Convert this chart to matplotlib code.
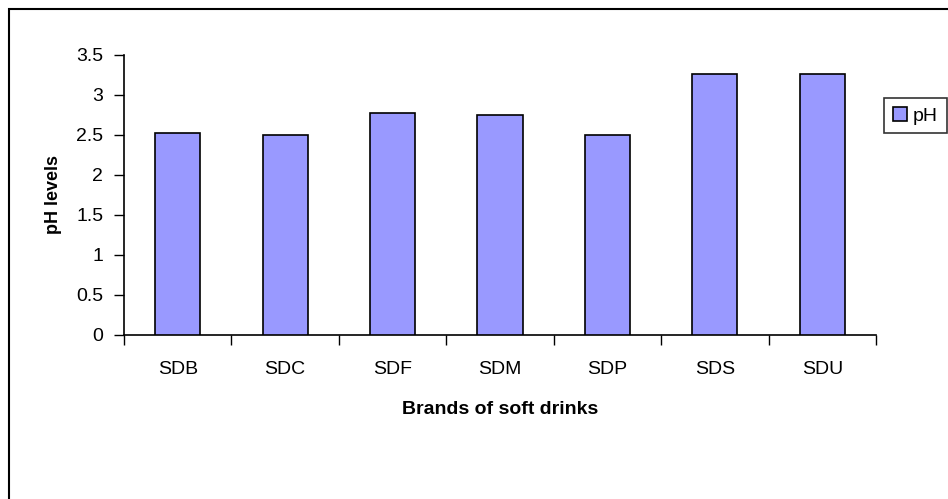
import numpy as np
import matplotlib.pyplot as plt
from matplotlib.patches import Rectangle

plt.rcParams['font.family'] = ['Liberation Sans', 'DejaVu Sans']

brands = ['SDB', 'SDC', 'SDF', 'SDM', 'SDP', 'SDS', 'SDU']
ph = [2.52, 2.50, 2.77, 2.75, 2.50, 3.26, 3.26]
yticks = [0, 0.5, 1, 1.5, 2, 2.5, 3, 3.5]
ytick_labels = ['0', '0.5', '1', '1.5', '2', '2.5', '3', '3.5']

fig = plt.figure(figsize=(9.48, 4.99), dpi=100)
ax = fig.add_axes([0.1308, 0.3287, 0.7932, 0.5611])

x = np.arange(len(brands))
ax.bar(x, ph, width=0.42, color='#9999ff', edgecolor='black', linewidth=1.2, label='pH', zorder=3)

ax.set_xlim(-0.5, len(brands) - 0.5)
ax.set_ylim(0, 3.5)

# y axis
ax.set_yticks(yticks)
ax.set_yticklabels(ytick_labels)
ax.tick_params(axis='y', direction='out', length=7, width=1, pad=8, labelsize=14)

# x axis: labels centred, ticks on the category boundaries
ax.set_xticks(x)
ax.set_xticklabels(brands)
ax.set_xticks(np.arange(len(brands) + 1) - 0.5, minor=True)
ax.tick_params(axis='x', which='major', length=0, pad=19, labelsize=14)
ax.tick_params(axis='x', which='minor', direction='out', length=7, width=1)

for s in ['top', 'right']:
    ax.spines[s].set_visible(False)
for s in ['left', 'bottom']:
    ax.spines[s].set_linewidth(1.2)

ax.set_xlabel('Brands of soft drinks', fontsize=14, fontweight='bold', labelpad=16)
ax.set_ylabel('pH levels', fontsize=13, fontweight='bold', labelpad=10)

leg = fig.legend(loc='upper left', bbox_to_anchor=(884 / 948, 1 - 98 / 499),
                 fontsize=14, frameon=True, fancybox=False, borderpad=0.45,
                 handlelength=0.75, handleheight=0.75, handletextpad=0.3,
                 borderaxespad=0)
leg.get_frame().set_edgecolor('black')
leg.get_frame().set_linewidth(1.2)

# outer chart border (open on right/bottom, as in the source)
fig.patches.append(Rectangle((9 / 948, -0.1), 1.2, 1 - 9 / 499 + 0.1,
                             transform=fig.transFigure, fill=False,
                             edgecolor='black', linewidth=1.5))

fig.savefig('out.png', dpi=100)
